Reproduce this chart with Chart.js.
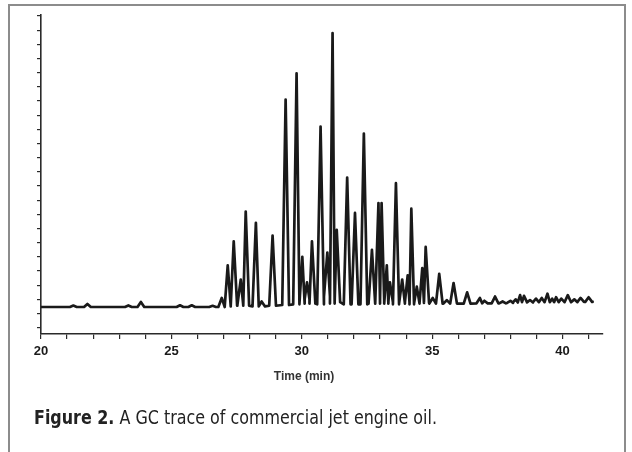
<!DOCTYPE html>
<html>
<head>
<meta charset="utf-8">
<script src="https://cdn.jsdelivr.net/npm/chart.js@4/dist/chart.umd.min.js"></script>
<style>
  html, body { margin: 0; padding: 0; background: #ffffff; overflow: hidden; }
  #wrap { position: relative; width: 632px; height: 452px; }
  #frame { position: absolute; left: 8px; top: 4px; width: 618px; height: 470px; border: 2px solid #8c8c8c; box-sizing: border-box; }
  canvas { position: absolute; left: 0; top: 0; }
  #xtitle { position: absolute; left: 254px; width: 100px; top: 369px; text-align: center;
            font-family: "Liberation Sans", Arial, sans-serif; font-weight: bold; font-size: 12px; color: #333; }
  #caption { position: absolute; left: 34px; top: 405px; white-space: nowrap; transform-origin: 0 0;
             font-family: "Liberation Sans Narrow", "DejaVu Sans Condensed", "Liberation Sans", sans-serif;
             font-size: 20px; color: #222; }
  #caption b { font-weight: bold; }
</style>
</head>
<body>
<div id="wrap">
  <div id="frame"></div>
  <canvas id="c" width="632" height="452"></canvas>
  <div id="xtitle">Time (min)</div>
  <div id="caption"><b>Figure 2.</b> A GC trace of commercial jet engine oil.</div>
</div>
<script>
// ---- data ----
const xTickValues = [20,21,22,23,24,25,26,27,28,29,30,31,32,33,34,35,36,37,38,39,40,41];
const xLabelValues = [20, 25, 30, 35, 40];
const yTickValues = [0,1,2,3,4,5,6,7,8,9,10,11,12,13,14,15,16,17,18,19,20,21,22];

const traceStartTime = 20.0, traceStartValue = 1.46;
const traceEndTime = 41.15, traceEndValue = 1.85;

const peakTime = [21.24, 21.78, 23.35, 23.83, 25.33, 25.78, 26.58, 26.93, 27.16, 27.39,
                  27.66, 27.85, 28.24, 28.46, 28.88, 29.38, 29.80, 30.02, 30.20, 30.39,
                  30.72, 30.98, 31.18, 31.34, 31.74, 32.04, 32.38, 32.69, 32.94, 33.06,
                  33.26, 33.38, 33.61, 33.85, 34.06, 34.20, 34.41, 34.62, 34.75, 35.02,
                  35.27, 35.56, 35.82, 36.34, 36.83, 37.00, 37.41, 37.70, 38.00, 38.20,
                  38.37, 38.52, 38.75, 38.98, 39.20, 39.42, 39.60, 39.75, 39.95, 40.20,
                  40.45, 40.69, 41.00];
const peakHeight = [1.56, 1.68, 1.57, 1.82, 1.58, 1.58, 1.55, 2.10, 4.40, 6.10,
                    3.40, 8.20, 7.40, 1.85, 6.50, 16.10, 17.95, 5.00, 3.20, 6.10,
                    14.20, 5.30, 20.80, 6.90, 10.60, 8.10, 13.70, 5.50, 8.80, 8.80,
                    4.40, 3.20, 10.20, 3.40, 3.70, 8.40, 2.90, 4.20, 5.70, 2.10,
                    3.80, 1.95, 3.15, 2.50, 2.10, 1.90, 2.20, 1.85, 1.90, 2.00,
                    2.30, 2.25, 1.95, 2.05, 2.10, 2.40, 2.05, 2.15, 2.05, 2.30,
                    2.00, 2.10, 2.15];
const peakBase = [1.46, 1.46, 1.46, 1.46, 1.46, 1.46, 1.46, 1.46, 1.50, 1.55,
                  1.60, 1.55, 1.50, 1.50, 1.55, 1.60, 1.65, 1.70, 2.00, 1.70,
                  1.65, 2.20, 1.70, 1.80, 1.65, 1.65, 1.65, 1.70, 1.70, 1.90,
                  1.70, 1.80, 1.65, 1.70, 1.80, 1.65, 1.70, 1.75, 1.75, 1.70,
                  1.70, 1.70, 1.70, 1.70, 1.72, 1.72, 1.72, 1.72, 1.75, 1.78,
                  1.80, 1.80, 1.78, 1.80, 1.80, 1.80, 1.80, 1.80, 1.80, 1.80,
                  1.80, 1.82, 1.82];

// ---- build the trace for the library ----
const HALF_WIDTH = 0.13;
const tracePoints = [{x: traceStartTime, y: traceStartValue}];
for (let i = 0; i < peakTime.length; i++) {
  const t = peakTime[i];
  const prev = i > 0 ? peakTime[i - 1] : -Infinity;
  const next = i < peakTime.length - 1 ? peakTime[i + 1] : Infinity;
  const l = Math.max(t - HALF_WIDTH, (prev + t) / 2);
  const r = Math.min(t + HALF_WIDTH, (t + next) / 2);
  tracePoints.push({x: l, y: peakBase[i]}, {x: t, y: peakHeight[i]}, {x: r, y: peakBase[i]});
}
tracePoints.push({x: traceEndTime, y: traceEndValue});

const axisColor = '#2a2a2a';

new Chart(document.getElementById('c'), {
  type: 'line',
  data: {
    datasets: [{
      data: tracePoints,
      borderColor: '#1a1a1a',
      borderWidth: 2.7,
      borderJoinStyle: 'round',
      borderCapStyle: 'round',
      pointRadius: 0,
      tension: 0,
      fill: false
    }]
  },
  options: {
    responsive: false,
    devicePixelRatio: 1,
    animation: false,
    events: [],
    layout: { padding: { left: 0, top: 15, right: 29, bottom: 88 } },
    plugins: { legend: { display: false }, tooltip: { enabled: false }, title: { display: false } },
    scales: {
      x: {
        type: 'linear',
        min: 20,
        max: 41.55,
        afterBuildTicks: axis => { axis.ticks = xTickValues.map(v => ({ value: v })); },
        afterFit: scale => { scale.height = 30; },
        grid: { drawOnChartArea: false, drawTicks: true, tickLength: 5, color: axisColor, lineWidth: 1.2 },
        border: { display: true, color: axisColor, width: 1.6 },
        ticks: {
          autoSkip: false, maxRotation: 0, padding: 5, color: '#1a1a1a',
          font: { family: '"Liberation Sans", Arial, sans-serif', size: 13, weight: 'bold' },
          callback: v => (xLabelValues.includes(v) ? String(v) : '')
        },
        title: { display: false }
      },
      y: {
        type: 'linear',
        min: -0.445,
        max: 22.07,
        afterBuildTicks: axis => { axis.ticks = yTickValues.map(v => ({ value: v })); },
        afterFit: scale => { scale.width = 41; },
        grid: { drawOnChartArea: false, drawTicks: true, tickLength: 4, color: axisColor, lineWidth: 1.2 },
        border: { display: true, color: axisColor, width: 1.6 },
        ticks: { display: false }
      }
    }
  }
});

// fit caption to the reference width
(function () {
  const cap = document.getElementById('caption');
  const w = cap.getBoundingClientRect().width;
  if (w > 0) cap.style.transform = 'scaleX(' + (403 / w) + ')';
})();
</script>
</body>
</html>
